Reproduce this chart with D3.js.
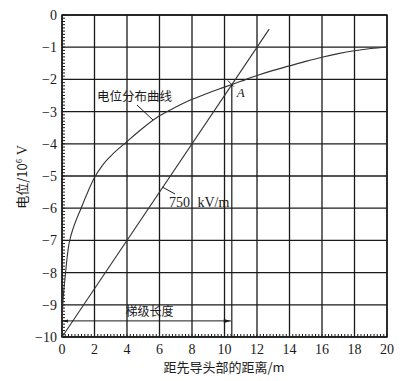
<!DOCTYPE html>
<html>
<head>
<meta charset="utf-8">
<script src="https://cdn.jsdelivr.net/npm/d3@7"></script>
<style>
  html, body { margin: 0; padding: 0; background: #fff; overflow: hidden; }
  svg { display: block; }
</style>
</head>
<body>
<svg id="chart" width="413" height="381"></svg>
<script>
// 电位分布曲线 (m, 10^6 V)
const curveX = [0, 0.02, 0.06, 0.12, 0.2, 0.3, 0.4, 0.5, 0.65, 0.9, 1.15, 1.5, 2, 2.5, 3, 4, 5, 6, 7, 8, 9, 10, 11, 12, 13, 14, 15, 16, 17, 18, 19, 20];
const curveY = [-10, -9.4, -8.9, -8.5, -8.1, -7.6, -7.2, -6.95, -6.68, -6.33, -6.03, -5.6, -5.05, -4.66, -4.38, -3.93, -3.5, -3.13, -2.86, -2.62, -2.42, -2.24, -2.06, -1.88, -1.72, -1.58, -1.44, -1.31, -1.2, -1.11, -1.04, -1.0];
// 750 kV/m 直线的两端
const lineX = [0, 12.75];
const lineY = [-10, -0.44];
// 交点 A 与梯级长度
const pointA = [10.45, -2.16];
const stepY = -9.5;
// 刻度
const xTicks = [0, 2, 4, 6, 8, 10, 12, 14, 16, 18, 20];
const yTicks = [0, -1, -2, -3, -4, -5, -6, -7, -8, -9, -10];

const svg = d3.select("#chart");
const margin = { top: 15, right: 26, bottom: 44, left: 62 };
const width = 413 - margin.left - margin.right;
const height = 381 - margin.top - margin.bottom;

const x = d3.scaleLinear().domain([0, 20]).range([0, width]);
const y = d3.scaleLinear().domain([-10, 0]).range([height, 0]);

const g = svg.append("g").attr("transform", `translate(${margin.left},${margin.top})`);
const ink = "#1a1a1a";
const serif = "'Liberation Serif', 'DejaVu Serif', serif";
const cjk = "'Noto Sans CJK SC', sans-serif";

// 网格
g.append("g").selectAll("line").data(xTicks).join("line")
  .attr("x1", d => x(d)).attr("x2", d => x(d))
  .attr("y1", 0).attr("y2", height)
  .attr("stroke", ink).attr("stroke-width", 1.3);
g.append("g").selectAll("line").data(yTicks).join("line")
  .attr("x1", 0).attr("x2", width)
  .attr("y1", d => y(d)).attr("y2", d => y(d))
  .attr("stroke", ink).attr("stroke-width", 1.3);

// 细刻度（向内）
g.append("g").selectAll("line").data(d3.range(0, 20.01, 0.2)).join("line")
  .attr("x1", d => x(d)).attr("x2", d => x(d))
  .attr("y1", height).attr("y2", height - 3)
  .attr("stroke", ink).attr("stroke-width", 1);
g.append("g").selectAll("line").data(d3.range(-10, 0.01, 0.1)).join("line")
  .attr("x1", 0).attr("x2", 3)
  .attr("y1", d => y(d)).attr("y2", d => y(d))
  .attr("stroke", ink).attr("stroke-width", 1);

// 外框
g.append("rect").attr("width", width).attr("height", height)
  .attr("fill", "none").attr("stroke", ink).attr("stroke-width", 1.5);

// 刻度标签
g.append("g").selectAll("text").data(xTicks).join("text")
  .attr("x", d => x(d)).attr("y", height + 17)
  .attr("text-anchor", "middle")
  .style("font-family", serif).style("font-size", "14px").attr("fill", ink)
  .text(d => d);
g.append("g").selectAll("text").data(yTicks).join("text")
  .attr("x", -5).attr("y", d => y(d)).attr("dy", "0.35em")
  .attr("text-anchor", "end")
  .style("font-family", serif).style("font-size", "14px").attr("fill", ink)
  .text(d => d === 0 ? "0" : "\u2212" + Math.abs(d));

// 电位分布曲线
const curve = curveX.map((d, i) => [d, curveY[i]]);
g.append("path").datum(curve)
  .attr("d", d3.line().x(d => x(d[0])).y(d => y(d[1])).curve(d3.curveMonotoneX))
  .attr("fill", "none").attr("stroke", "#333").attr("stroke-width", 1.1);

// 750 kV/m 直线
g.append("line")
  .attr("x1", x(lineX[0])).attr("y1", y(lineY[0]))
  .attr("x2", x(lineX[1])).attr("y2", y(lineY[1]))
  .attr("stroke", "#333").attr("stroke-width", 1.1);

// A 点竖线与小叉
g.append("line")
  .attr("x1", x(pointA[0])).attr("x2", x(pointA[0]))
  .attr("y1", y(pointA[1])).attr("y2", height)
  .attr("stroke", ink).attr("stroke-width", 1.2);
g.append("line")
  .attr("x1", x(pointA[0]) - 4).attr("y1", y(pointA[1]) - 4)
  .attr("x2", x(pointA[0]) + 2).attr("y2", y(pointA[1]) + 2)
  .attr("stroke", ink).attr("stroke-width", 1);
g.append("text")
  .attr("x", x(pointA[0]) + 5).attr("y", y(pointA[1]) + 12)
  .style("font-family", serif).style("font-size", "13px").style("font-style", "italic")
  .attr("fill", ink).text("A");

// 梯级长度箭头
const ay = y(stepY);
g.append("line")
  .attr("x1", x(0)).attr("x2", x(pointA[0]) - 1)
  .attr("y1", ay).attr("y2", ay)
  .attr("stroke", ink).attr("stroke-width", 1);
g.append("path")
  .attr("d", `M${x(pointA[0]) - 1},${ay} l-7,-2 l0,4 Z`)
  .attr("fill", ink);
g.append("path")
  .attr("d", `M${x(0)},${ay} l6,-1.5 l0,3 Z`)
  .attr("fill", ink);
g.append("text")
  .attr("x", x(3.9)).attr("y", ay - 5)
  .style("font-family", cjk).style("font-size", "12px").attr("fill", ink)
  .text("梯级长度");

// 曲线标注
g.append("line")
  .attr("x1", 75).attr("y1", 90).attr("x2", 91).attr("y2", 105)
  .attr("stroke", ink).attr("stroke-width", 1);
g.append("text")
  .attr("x", 35).attr("y", 86)
  .style("font-family", cjk).style("font-size", "12.5px").attr("fill", ink)
  .text("电位分布曲线");

g.append("line")
  .attr("x1", x(6.2)).attr("y1", y(6.2 * 0.75 - 10))
  .attr("x2", 113).attr("y2", 179)
  .attr("stroke", ink).attr("stroke-width", 1);
g.append("text")
  .attr("x", 107).attr("y", 192)
  .style("font-family", serif).style("font-size", "14px").style("word-spacing", "4px")
  .attr("fill", ink)
  .text("750 kV/m");

// 轴标题
svg.append("text")
  .attr("x", 224).attr("y", 372).attr("text-anchor", "middle")
  .style("font-family", cjk).style("font-size", "13px").attr("fill", ink)
  .text("距先导头部的距离/m");
svg.append("text")
  .attr("transform", "translate(27,177) rotate(-90)")
  .attr("text-anchor", "middle")
  .style("font-family", cjk).style("font-size", "13px").attr("fill", ink)
  .text("电位/10")
  .append("tspan").attr("dy", -5).style("font-size", "8px").text("6")
  .select(function () { return this.parentNode; })
  .append("tspan").attr("dy", 5).style("font-family", serif).style("font-size", "14px").text(" V");
</script>
</body>
</html>
